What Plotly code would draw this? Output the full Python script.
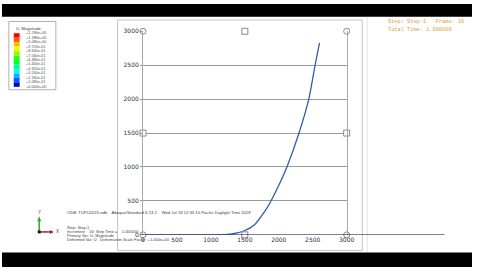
import plotly.graph_objects as go

W, H = 480, 270

# Curve data
x_vals = [0, 500, 1000, 1200, 1350, 1485, 1644, 1803, 1875, 2000, 2120, 2298, 2442, 2535, 2600]
y_vals = [0, 0, 0, 2, 20, 57, 150, 360, 480, 730, 1000, 1500, 2000, 2500, 2828]

x_ticks = [0, 500, 1000, 1500, 2000, 2500, 3000]
y_ticks = [0, 500, 1000, 1500, 2000, 2500, 3000]

# Abaqus contour legend
legend_title = "U, Magnitude"
legend_labels = ["+1.296e+00", "+1.188e+00", "+1.080e+00", "+9.720e-01", "+8.640e-01",
                 "+7.560e-01", "+6.480e-01", "+5.400e-01", "+4.320e-01", "+3.240e-01",
                 "+2.160e-01", "+1.080e-01", "+0.000e+00"]
legend_colors = ["#FF0000", "#FF5D00", "#FFB900", "#E8FF00", "#8BFF00", "#2EFF00",
                 "#00FF2E", "#00FF8B", "#00FFE8", "#00B9FF", "#005DFF", "#0000C8"]

status_lines = ["Step: Step-1   Frame: 16", "Total Time: 1.000000"]
odb_line = "ODB: TUPU2015.odb    Abaqus/Standard 6.13-1    Wed Jul 18 12:35:15 Pacific Daylight Time 2018"
info_lines = ["Step: Step-1",
              "Increment    16: Step Time =    1.000000",
              "Primary Var: U, Magnitude",
              "Deformed Var: U   Deformation Scale Factor: +1.000e+00"]


def px(x):
    return x / W


def py(y):
    return 1 - y / H


fig = go.Figure()

fig.add_trace(go.Scatter(x=x_vals, y=y_vals, mode="lines",
                         line=dict(color="#2d5fa6", width=1.3, shape="spline", smoothing=0.6),
                         hoverinfo="skip", showlegend=False))

# viewport handles at corners / midpoints
xr = [x_ticks[0], x_ticks[-1]]
yr = [y_ticks[0], y_ticks[-1]]
xm = (xr[0] + xr[1]) / 2
ym = (yr[0] + yr[1]) / 2
hx = [xr[0], xm, xr[1], xr[0], xr[1], xr[0], xm, xr[1]]
hy = [yr[1], yr[1], yr[1], ym, ym, yr[0], yr[0], yr[0]]
hs = ["circle", "square", "circle", "square", "square", "circle", "square", "circle"]
fig.add_trace(go.Scatter(x=hx, y=hy, mode="markers", cliponaxis=False,
                         marker=dict(symbol=hs, size=6, color="white",
                                     line=dict(color="#8a8a8a", width=1)),
                         hoverinfo="skip", showlegend=False))

shapes = []
# outer viewport frame
shapes.append(dict(type="rect", xref="paper", yref="paper", x0=px(118), x1=px(368),
                   y0=py(253), y1=py(16.5), line=dict(color="#c4c4c4", width=1), layer="below"))
shapes.append(dict(type="line", xref="paper", yref="paper", x0=px(373), x1=px(373),
                   y0=py(255), y1=py(13), line=dict(color="#e4e4e4", width=1), layer="below"))
# x axis baseline extended
shapes.append(dict(type="line", xref="paper", yref="y", x0=px(143), x1=px(452),
                   y0=0, y1=0, line=dict(color="#1c1c50", width=1.3)))
# black bars
shapes.append(dict(type="rect", xref="paper", yref="paper", x0=0, x1=1, y0=py(270), y1=py(255),
                   fillcolor="black", line=dict(width=0)))
shapes.append(dict(type="rect", xref="paper", yref="paper", x0=0, x1=1, y0=py(13), y1=py(0),
                   fillcolor="black", line=dict(width=0)))
# legend box
shapes.append(dict(type="rect", xref="paper", yref="paper", x0=px(7), x1=px(55),
                   y0=py(88), y1=py(18), line=dict(color="#b0b0b0", width=1)))
top, bot = 30.0, 85.0
hsw = (bot - top) / len(legend_colors)
for i, c in enumerate(legend_colors):
    shapes.append(dict(type="rect", xref="paper", yref="paper", x0=px(12), x1=px(18),
                       y0=py(top + (i + 1) * hsw), y1=py(top + i * hsw),
                       fillcolor=c, line=dict(width=0)))
# triad
shapes.append(dict(type="line", xref="paper", yref="paper", x0=px(38), x1=px(38),
                   y0=py(234), y1=py(221), line=dict(color="#22b022", width=1.5)))
shapes.append(dict(type="path", xref="paper", yref="paper",
                   path=f"M {px(36)} {py(223)} L {px(40)} {py(223)} L {px(38)} {py(218)} Z",
                   fillcolor="#22b022", line=dict(width=0)))
shapes.append(dict(type="line", xref="paper", yref="paper", x0=px(38), x1=px(50),
                   y0=py(234), y1=py(234), line=dict(color="#b02020", width=1.5)))
shapes.append(dict(type="path", xref="paper", yref="paper",
                   path=f"M {px(49)} {py(232)} L {px(49)} {py(236)} L {px(53)} {py(234)} Z",
                   fillcolor="#b02020", line=dict(width=0)))
shapes.append(dict(type="rect", xref="paper", yref="paper", x0=px(36.5), x1=px(39.5),
                   y0=py(235.5), y1=py(232.5), fillcolor="#101040", line=dict(width=0)))

annotations = []
for i, t in enumerate(status_lines):
    annotations.append(dict(text=t, xref="paper", yref="paper", x=px(392), y=py(18 + 9 * i),
                            xanchor="left", yanchor="middle", showarrow=False,
                            font=dict(family="Liberation Mono", size=5.3, color="#e09a40")))
annotations.append(dict(text=odb_line, xref="paper", yref="paper", x=px(64), y=py(214),
                        xanchor="left", yanchor="middle", showarrow=False,
                        font=dict(family="Liberation Sans", size=4.2, color="#404040")))
for i, t in enumerate(info_lines):
    annotations.append(dict(text=t, xref="paper", yref="paper", x=px(64), y=py(229 + 4.4 * i),
                            xanchor="left", yanchor="middle", showarrow=False,
                            font=dict(family="Liberation Sans", size=4.0, color="#404040")))
annotations.append(dict(text=legend_title, xref="paper", yref="paper", x=px(12), y=py(25),
                        xanchor="left", yanchor="middle", showarrow=False,
                        font=dict(family="Liberation Sans", size=4.2, color="#404040")))
for i, t in enumerate(legend_labels):
    annotations.append(dict(text=t, xref="paper", yref="paper", x=px(22), y=py(top + i * hsw),
                            xanchor="left", yanchor="middle", showarrow=False,
                            font=dict(family="Liberation Sans", size=3.8, color="#505050")))
annotations.append(dict(text="Y", xref="paper", yref="paper", x=px(38), y=py(214),
                        xanchor="center", yanchor="middle", showarrow=False,
                        font=dict(family="Liberation Sans", size=4.5, color="#404040")))
annotations.append(dict(text="X", xref="paper", yref="paper", x=px(57), y=py(234),
                        xanchor="center", yanchor="middle", showarrow=False,
                        font=dict(family="Liberation Sans", size=4.5, color="#404040")))

fig.update_layout(
    width=W, height=H, margin=dict(l=0, r=0, t=0, b=0),
    paper_bgcolor="white", plot_bgcolor="white",
    showlegend=False,
    xaxis=dict(domain=[px(144), px(352)], range=xr, tickvals=x_ticks,
               ticktext=[str(v) for v in x_ticks], showgrid=False, zeroline=False,
               showline=False, ticks="", tickfont=dict(family="DejaVu Sans", size=6, color="#303030")),
    yaxis=dict(domain=[py(237), py(28)], range=yr, tickvals=y_ticks,
               ticktext=[str(v) for v in y_ticks], showgrid=True, gridcolor="#9a9a9a",
               gridwidth=1, zeroline=False, showline=True, mirror=True, linecolor="#a8a8a8",
               ticks="outside", ticklen=2, tickcolor="#909090",
               tickfont=dict(family="DejaVu Sans", size=6, color="#303030")),
    shapes=shapes, annotations=annotations,
)

fig.write_html("out.html")
